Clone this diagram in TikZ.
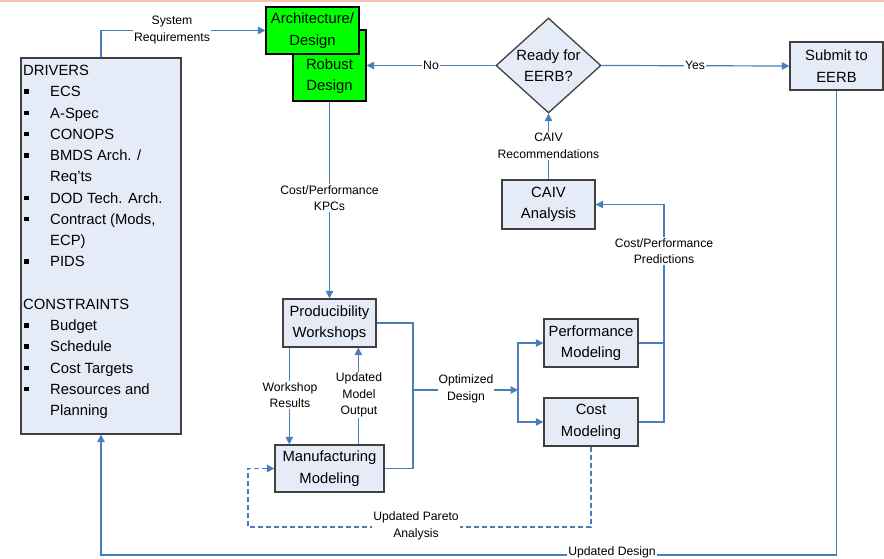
\documentclass[tikz,border=0pt]{standalone}
\usepackage{fontspec}
\setmainfont{Liberation Sans}
\usetikzlibrary{shapes.geometric,arrows.meta,calc}
\definecolor{boxfill}{HTML}{E6ECF7}
\definecolor{boxline}{HTML}{404040}
\definecolor{wirecol}{HTML}{4A7EBB}
\definecolor{gfill}{HTML}{00FF00}
\definecolor{topband}{HTML}{F9C3B1}
\newcommand{\bul}{\makebox[27pt][l]{\hspace{1pt}\raisebox{3pt}{\rule{4.5pt}{4.5pt}}}}
\newcommand{\ind}{\hspace*{27pt}}
\begin{document}
\begin{tikzpicture}[x=1pt,y=-1pt,
  boxfont/.style={font=\fontsize{14.8}{21.5}\selectfont},
  box/.style={draw=boxline, fill=boxfill, line width=1.3pt, inner sep=0pt, align=center, boxfont},
  gbox/.style={draw=black, fill=gfill, line width=1.1pt, inner sep=0pt, align=center, boxfont},
  wire/.style={draw=wirecol, line width=1.2pt},
  conn/.style={wire, -{Triangle[length=7.5pt,width=7.5pt]}},
  lbl/.style={fill=white, inner sep=1pt, align=center, font=\fontsize{12.2}{16.5}\selectfont},
]
\useasboundingbox (0,0) rectangle (884,559);
\fill[topband] (0,0) rectangle (884,1.6);

% drivers and constraints
\node[box, minimum width=160pt, minimum height=376pt] (drivers) at (101,246) {};
\node[anchor=north west, inner sep=0pt, align=left, font=\fontsize{14.8}{21.25}\selectfont] (driverstxt) at (23,65) {%
DRIVERS\\
\bul ECS\\
\bul A-Spec\\
\bul CONOPS\\
\bul BMDS Arch. /\\
\ind Req’ts\\
\bul DOD Tech. Arch.\\
\bul Contract (Mods,\\
\ind ECP)\\
\bul PIDS\\[21.25pt]
CONSTRAINTS\\
\bul Budget\\
\bul Schedule\\
\bul Cost Targets\\
\bul Resources and\\
\ind Planning};

% design boxes
\node[gbox, minimum width=73pt, minimum height=71pt] (robust) at (329.5,65.5) {};
\node[boxfont, align=center, inner sep=0pt] (robusttxt) at (329.5,76) {Robust\\Design};
\node[gbox, minimum width=93pt, minimum height=47pt] (arch) at (312.5,30.5) {Architecture/\\Design};

\node[draw=boxline, fill=boxfill, line width=1.3pt, diamond, aspect=1.1,
      minimum width=105pt, minimum height=95pt, inner sep=0pt] (ready) at (548.5,65.5) {};
\node[boxfont, align=center, inner sep=0pt] (readytxt) at (548.5,65.5) {Ready for\\EERB?};

\node[box, minimum width=93pt, minimum height=48pt] (submit) at (836.5,66) {Submit to\\EERB};
\node[box, minimum width=93pt, minimum height=49pt] (caiv) at (548.5,204.5) {CAIV\\Analysis};
\node[box, minimum width=93pt, minimum height=48pt] (prod) at (329.5,323) {Producibility\\Workshops};
\node[box, minimum width=109pt, minimum height=47pt] (manu) at (329.5,468.5) {Manufacturing\\Modeling};
\node[box, minimum width=94pt, minimum height=48pt] (perf) at (591,343) {Performance\\Modeling};
\node[box, minimum width=94pt, minimum height=48pt] (cost) at (591,422) {Cost\\Modeling};

% junction points
\coordinate (bus) at (413,390);
\coordinate (split) at (518,390);
\coordinate (pcorner) at (664,204.5);
\coordinate (pareto) at (248,527);
\coordinate (bottom) at (836.5,555);
\coordinate (wsout) at ($(prod.south west)+(7,0)$);
\coordinate (mdout) at ($(manu.north west)+(84,0)$);

% connectors
\draw[conn] (drivers.north) |- (arch.west);
\node[lbl] (sysreq) at (172,30) {System\\Requirements};

\draw[conn] (ready.west) -- (robust.east);
\node[lbl] (nolbl) at (431,65.5) {No};

\draw[conn] (ready.east) -- (submit.west);
\node[lbl] (yeslbl) at (695,65.5) {Yes};

\draw[conn] (robust.south) -- (prod.north);
\node[lbl] (kpc) at (329.5,198) {Cost/Performance\\KPCs};

\draw[conn] (caiv.north) -- (ready.south);
\node[lbl] (caivrec) at (548.5,146) {CAIV\\Recommendations};

\draw[conn] (wsout) -- (wsout |- manu.north);
\node[lbl] (wsres) at (290,395) {Workshop\\Results};

\draw[conn] (mdout) -- (mdout |- prod.south);
\node[lbl] (mdlout) at (359,395) {Updated\\Model\\Output};

\draw[wire] (prod.east) -| (bus) |- (manu.east);
\draw[conn] (bus) -- (split);
\node[lbl] (optdes) at (466,389) {Optimized\\Design};
\draw[conn] (split) |- (perf.west);
\draw[conn] (split) |- (cost.west);

\draw[wire] (perf.east) -- (perf.east -| pcorner);
\draw[conn] (cost.east) -| (pcorner) -- (caiv.east);
\node[lbl] (cpp) at (664,251) {Cost/Performance\\Predictions};

\draw[conn, dashed, dash pattern=on 5pt off 3pt] (cost.south) |- (pareto) |- (manu.west);
\node[lbl] (parlbl) at (416,526) {Updated Pareto\\Analysis};

\draw[conn] (submit.south) -- (bottom) -| (drivers.south);
\node[lbl] (updes) at (612,552.5) {Updated Design};
\end{tikzpicture}
\end{document}
